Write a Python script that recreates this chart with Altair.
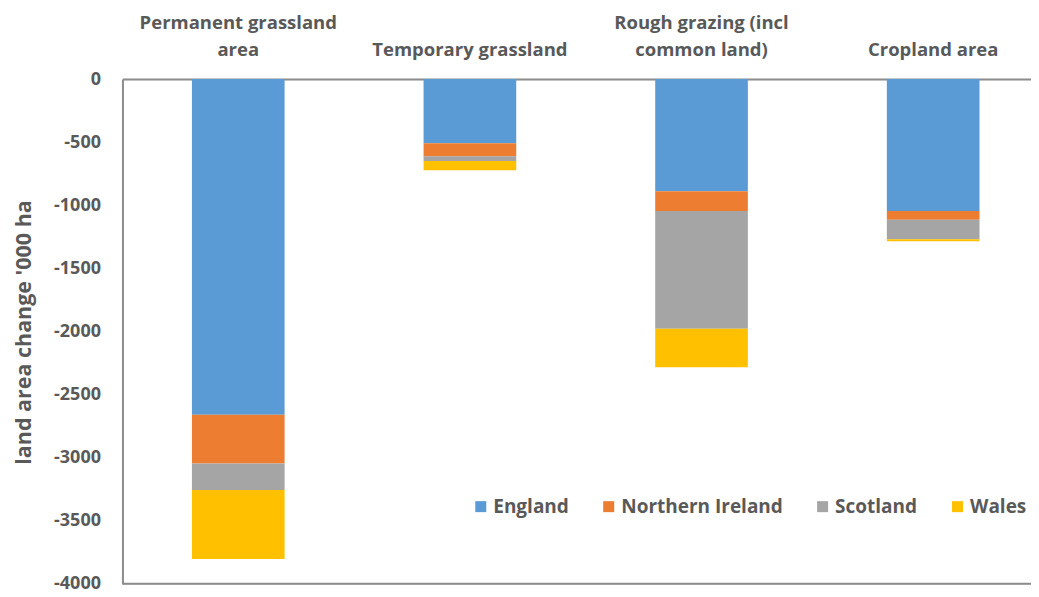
import altair as alt
import pandas as pd

categories = ["Permanent grassland|area", "|Temporary grassland",
              "Rough grazing (incl|common land)", "|Cropland area"]
regions = ["England", "Northern Ireland", "Scotland", "Wales"]
england = [-2660, -508, -889, -1045]
northern_ireland = [-387, -103, -156, -69]
scotland = [-209, -37, -934, -156]
wales = [-546, -74, -304, -15]
colors = ["#5B9BD5", "#ED7D31", "#A5A5A5", "#FFC000"]
y_ticks = [0, -500, -1000, -1500, -2000, -2500, -3000, -3500, -4000]

rows = []
for i, c in enumerate(categories):
    for j, (r, vals) in enumerate(zip(regions, [england, northern_ireland, scotland, wales])):
        rows.append({"category": c, "region": r, "value": vals[i], "order": j})
df = pd.DataFrame(rows)

W, H = 909, 505
grey = "#595959"
frame = "#8C8C8C"

bars = alt.Chart(df).mark_bar().encode(
    x=alt.X("category:N", sort=categories,
            scale=alt.Scale(range=[0, 927], paddingInner=0.6, paddingOuter=0.3),
            axis=alt.Axis(orient="top", title=None, labelAngle=0, ticks=False,
                          labelExpr="split(datum.label, '|')",
                          labelFont="Open Sans", labelFontWeight="bold",
                          labelFontSize=18.5, labelColor=grey, labelLineHeight=27,
                          labelPadding=47, labelLimit=400, labelOverlap=False,
                          domainColor=frame, domainWidth=2)),
    y=alt.Y("value:Q", stack="zero",
            scale=alt.Scale(domain=[-4000, 0], nice=False),
            axis=alt.Axis(values=y_ticks, grid=False, ticks=False,
                          labelExpr="'' + datum.value",
                          title="land area change '000 ha",
                          titleFont="Open Sans", titleFontSize=21.5, titleFontWeight="bold",
                          titleColor=grey, titleAngle=-90, titleX=-98, titleY=253,
                          titleAlign="center", titleBaseline="middle",
                          labelFont="Open Sans", labelFontWeight="bold", labelFontSize=18,
                          labelColor=grey, labelPadding=22,
                          domainColor=frame, domainWidth=2)),
    color=alt.Color("region:N", sort=regions,
                    scale=alt.Scale(domain=regions, range=colors),
                    legend=alt.Legend(title=None, orient="none", legendX=349, legendY=418,
                                      direction="horizontal", columns=4, columnPadding=30,
                                      symbolType="square", symbolSize=121,
                                      symbolStrokeWidth=0, labelFont="Open Sans",
                                      labelFontWeight="bold", labelFontSize=19,
                                      labelColor=grey, labelOffset=3, labelLimit=300,
                                      padding=0)),
    order=alt.Order("order:Q"),
)

bottom = alt.Chart(pd.DataFrame({"v": [-4000]})).mark_rule(color=frame, strokeWidth=2).encode(
    y="v:Q", x=alt.value(0), x2=alt.value(W)
)

chart = alt.layer(bars, bottom).properties(
    width=W, height=H,
    autosize=alt.AutoSizeParams(type="none"),
    padding={"left": 114.5, "top": 71, "right": 0, "bottom": 16},
).configure_view(stroke=None).configure(background="white")

chart.save("out.html", embed_options={"renderer": "svg", "actions": False})
